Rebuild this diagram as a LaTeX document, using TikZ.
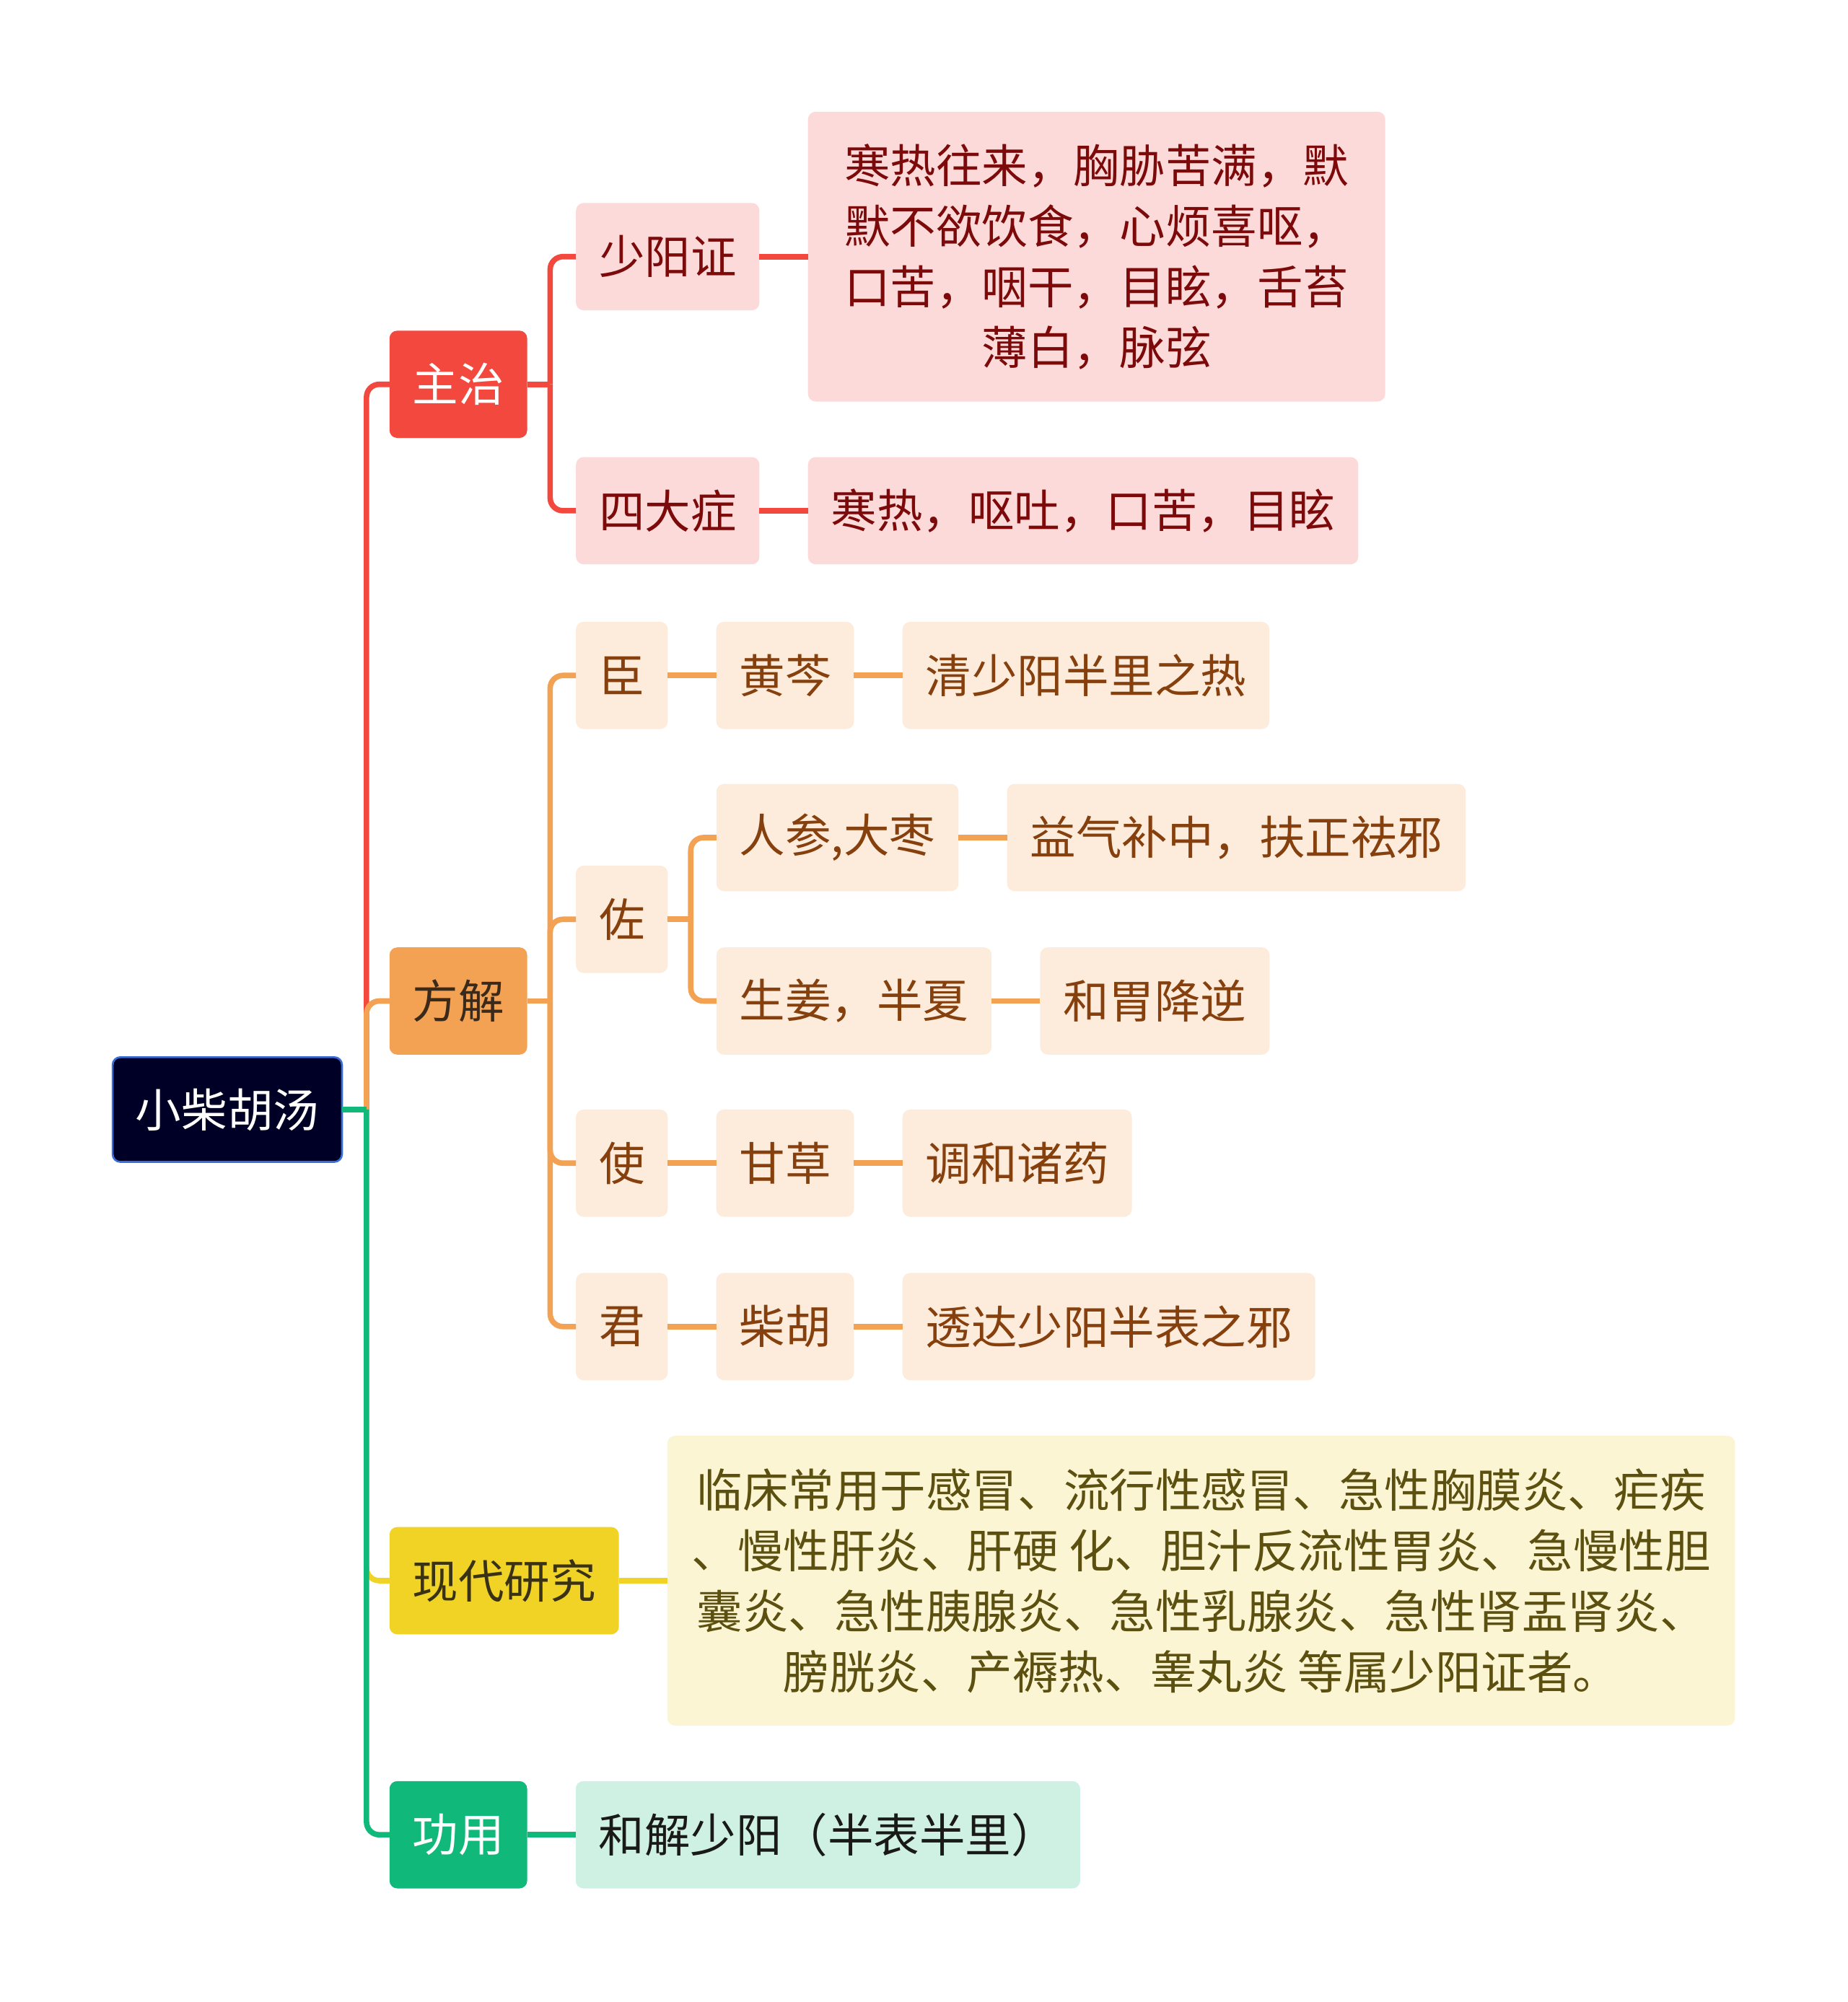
\documentclass[tikz,border=0pt]{standalone}
\usepackage{fontspec}
\newfontfamily\cjk{Noto Sans CJK SC}
\usetikzlibrary{positioning}
\definecolor{rootbg}{HTML}{000026}
\definecolor{rootblue}{HTML}{3A6ED6}
\definecolor{zred}{HTML}{F3483E}
\definecolor{zpink}{HTML}{FDDADA}
\definecolor{zdark}{HTML}{7D0A0A}
\definecolor{forange}{HTML}{F3A152}
\definecolor{fpale}{HTML}{FDEBDC}
\definecolor{fdark}{HTML}{86400D}
\definecolor{ftext}{HTML}{3B2A1A}
\definecolor{yfill}{HTML}{F1D326}
\definecolor{ypale}{HTML}{FBF5D3}
\definecolor{ydark}{HTML}{5C5010}
\definecolor{ytext}{HTML}{3A3215}
\definecolor{gfill}{HTML}{10B97A}
\definecolor{gpale}{HTML}{CFF1E3}

\begin{document}
\begin{tikzpicture}[x=1pt, y=-1pt, node distance=38pt, line width=4.3pt,
    font=\cjk\fontsize{35.9}{47.5}\selectfont,
    box/.style={rounded corners=6pt, minimum height=84pt, inner xsep=18pt, inner ysep=0pt, outer sep=0pt, align=center},
    redbox/.style={box, fill=zpink, text=zdark},
    orbox/.style={box, fill=fpale, text=fdark},
    zline/.style={draw=zred}, fline/.style={draw=forange},
    yline/.style={draw=yfill}, gline/.style={draw=gfill}]
    \useasboundingbox (0,0) rectangle (1447,1568);
    \node[box, fill=rootbg, draw=rootblue, line width=1.5pt, text=white, minimum height=82pt] (root) at (178,869) {小柴胡汤};
    % first level
    \node[box, fill=zred, text=white, anchor=west] (zhuzhi) at (305,301) {主治};
    \node[box, fill=forange, text=ftext, anchor=west] (fangjie) at (305,784) {方解};
    \node[box, fill=yfill, text=ytext, anchor=west] (yanjiu) at (305,1238) {现代研究};
    \node[box, fill=gfill, text=white, anchor=west] (gongyong) at (305,1437) {功用};
    % 主治
    \node[redbox, anchor=west] (shaoyang) at (451,201) {少阳证};
    \node[redbox, right=of shaoyang, minimum width=452pt, minimum height=227pt] (zhengzhuang) {寒热往来，胸胁苦满，默\\默不欲饮食，心烦喜呕，\\口苦，咽干，目眩，舌苔\\薄白，脉弦};
    \node[redbox, anchor=west] (sida) at (451,400) {四大症};
    \node[redbox, right=of sida] (sidatext) {寒热，呕吐，口苦，目眩};
    % 方解
    \node[orbox, anchor=west] (chen) at (451,529) {臣};
    \node[orbox, right=of chen] (huangqin) {黄芩};
    \node[orbox, right=of huangqin] (qingre) {清少阳半里之热};
    \node[orbox, anchor=west] (zuo) at (451,720) {佐};
    \node[orbox, anchor=west] (renshen) at (561,656) {人参,大枣};
    \node[orbox, right=of renshen] (yiqi) {益气补中，扶正祛邪};
    \node[orbox, anchor=west] (shengjiang) at (561,784) {生姜，半夏};
    \node[orbox, right=of shengjiang] (hewei) {和胃降逆};
    \node[orbox, anchor=west] (shi) at (451,911) {使};
    \node[orbox, right=of shi] (gancao) {甘草};
    \node[orbox, right=of gancao] (tiaohe) {调和诸药};
    \node[orbox, anchor=west] (jun) at (451,1039) {君};
    \node[orbox, right=of jun] (chaihu) {柴胡};
    \node[orbox, right=of chaihu] (touda) {透达少阳半表之邪};
    % 现代研究, 功用
    \node[box, fill=ypale, text=ydark, right=of yanjiu, minimum width=836pt, minimum height=227pt] (linchuang) {临床常用于感冒、流行性感冒、急性胸膜炎、疟疾\\、慢性肝炎、肝硬 化、胆汁反流性胃炎、急慢性胆\\囊炎、急性胰腺炎、急性乳腺炎、急性肾盂肾炎、\\膀胱炎、产褥热、睾丸炎 等属少阳证者。};
    \node[box, fill=gpale, text=black!90, right=of gongyong] (hejie) {和解少阳（半表半里）};
    % connectors
    \coordinate (trunk) at (287,869);
    \draw[zline, rounded corners=10pt] (trunk) |- (zhuzhi.west);
    \draw[yline, rounded corners=10pt] (trunk) |- (yanjiu.west);
    \draw[fline, rounded corners=10pt] (trunk) |- (fangjie.west);
    \draw[gline, rounded corners=10pt] (trunk) |- (gongyong.west);
    \draw[gline] (root.east) -- (trunk);
    \draw[zline] (zhuzhi.east) -- ++(18,0) coordinate (zj);
    \foreach \n in {shaoyang, sida} \draw[zline, rounded corners=10pt] (zj) |- (\n.west);
    \draw[zline] (shaoyang) -- (zhengzhuang);
    \draw[zline] (sida) -- (sidatext);
    \draw[fline] (fangjie.east) -- ++(18,0) coordinate (fj);
    \foreach \n in {chen, zuo, shi, jun} \draw[fline, rounded corners=10pt] (fj) |- (\n.west);
    \draw[fline] (zuo.east) -- ++(18,0) coordinate (zuoj);
    \foreach \n in {renshen, shengjiang} \draw[fline, rounded corners=10pt] (zuoj) |- (\n.west);
    \foreach \a/\b in {chen/huangqin, huangqin/qingre, renshen/yiqi, shengjiang/hewei, shi/gancao, gancao/tiaohe, jun/chaihu, chaihu/touda}
        \draw[fline] (\a) -- (\b);
    \draw[yline] (yanjiu) -- (linchuang);
    \draw[gline] (gongyong) -- (hejie);
\end{tikzpicture}
\end{document}
